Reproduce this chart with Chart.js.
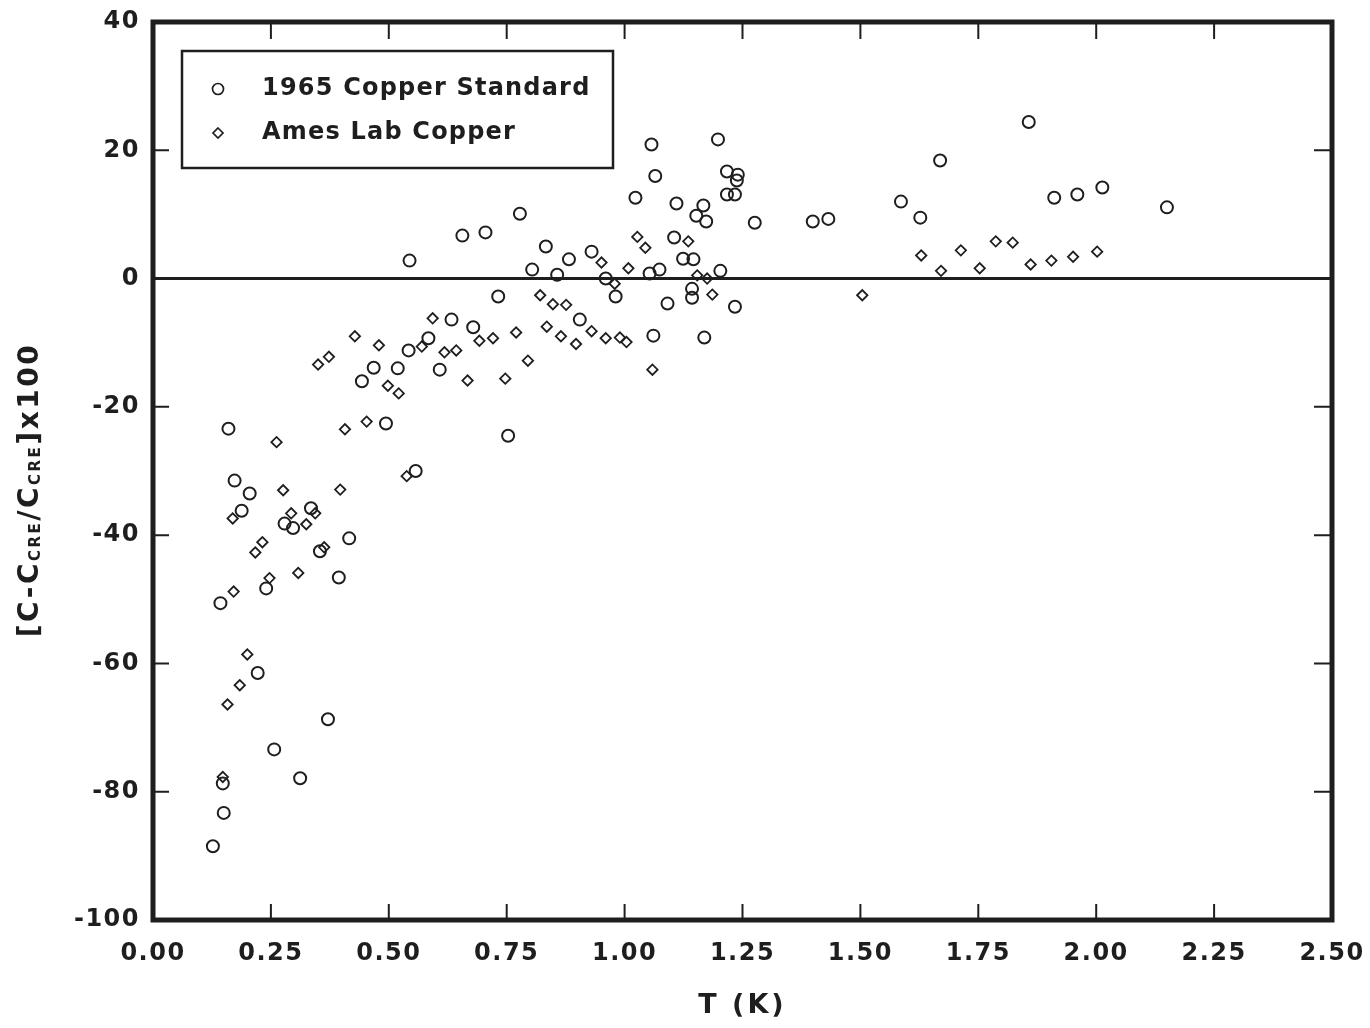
<!DOCTYPE html>
<html>
<head>
<meta charset="utf-8">
<title>Copper heat capacity deviation</title>
<script src="https://cdn.jsdelivr.net/npm/chart.js@4.4.1/dist/chart.umd.min.js"></script>
<style>
  html, body { margin: 0; padding: 0; background: #fff; }
  canvas { display: block; }
</style>
</head>
<body>
<canvas id="devChart" width="1370" height="1028"></canvas>
<script>
// 1965 Copper Standard: temperature (K) and deviation x100
const stdT = [
  0.127, 0.150, 0.148, 0.143, 0.160, 0.173, 0.188, 0.205, 0.222, 0.240,
  0.257, 0.279, 0.297, 0.312, 0.335, 0.354, 0.371, 0.394, 0.416, 0.443,
  0.468, 0.494, 0.519, 0.544, 0.542, 0.557, 0.584, 0.608, 0.633, 0.656,
  0.679, 0.705, 0.732, 0.753, 0.778, 0.804, 0.833, 0.857, 0.882, 0.905,
  0.930, 0.960, 0.981, 1.023, 1.053, 1.057, 1.061, 1.065, 1.074, 1.091,
  1.105, 1.110, 1.124, 1.143, 1.143, 1.146, 1.152, 1.167, 1.169, 1.173,
  1.198, 1.203, 1.217, 1.217, 1.234, 1.234, 1.238, 1.240, 1.276, 1.399,
  1.432, 1.586, 1.627, 1.669, 1.857, 1.911, 1.960, 2.013, 2.150
];
const stdDev = [
  -88.5, -83.3, -78.7, -50.6, -23.4, -31.5, -36.2, -33.5, -61.5, -48.3,
  -73.4, -38.2, -38.9, -77.9, -35.8, -42.5, -68.7, -46.6, -40.5, -16.0,
  -13.9, -22.6, -14.0, 2.8, -11.2, -30.0, -9.3, -14.2, -6.4, 6.7,
  -7.6, 7.2, -2.8, -24.5, 10.1, 1.4, 5.0, 0.6, 3.0, -6.4,
  4.2, 0.0, -2.8, 12.6, 0.8, 20.9, -8.9, 16.0, 1.4, -3.9,
  6.4, 11.7, 3.1, -1.6, -3.0, 3.0, 9.8, 11.4, -9.2, 8.9,
  21.7, 1.2, 16.7, 13.1, 13.1, -4.4, 15.3, 16.2, 8.7, 8.9,
  9.3, 12.0, 9.5, 18.4, 24.4, 12.6, 13.1, 14.2, 11.1
];

// Ames Lab Copper
const amesT = [
  0.148, 0.158, 0.169, 0.171, 0.184, 0.200, 0.217, 0.232, 0.247, 0.262,
  0.276, 0.293, 0.308, 0.325, 0.344, 0.350, 0.363, 0.373, 0.397, 0.407,
  0.428, 0.453, 0.479, 0.498, 0.521, 0.538, 0.570, 0.593, 0.618, 0.643,
  0.667, 0.692, 0.721, 0.747, 0.770, 0.795, 0.821, 0.835, 0.848, 0.865,
  0.876, 0.897, 0.930, 0.951, 0.960, 0.979, 0.990, 1.004, 1.008, 1.027,
  1.044, 1.059, 1.135, 1.154, 1.175, 1.186, 1.504, 1.629, 1.671, 1.713,
  1.753, 1.787, 1.823, 1.861, 1.905, 1.951, 2.002
];
const amesDev = [
  -77.7, -66.4, -37.4, -48.8, -63.4, -58.6, -42.7, -41.1, -46.7, -25.5,
  -33.0, -36.6, -45.9, -38.3, -36.6, -13.4, -41.9, -12.2, -32.9, -23.5,
  -9.0, -22.3, -10.4, -16.7, -17.9, -30.8, -10.6, -6.2, -11.5, -11.2,
  -15.9, -9.7, -9.3, -15.6, -8.4, -12.8, -2.6, -7.5, -4.0, -9.0,
  -4.1, -10.2, -8.2, 2.5, -9.3, -0.8, -9.2, -9.9, 1.6, 6.5,
  4.8, -14.2, 5.8, 0.5, 0.0, -2.5, -2.6, 3.6, 1.2, 4.4,
  1.6, 5.8, 5.6, 2.2, 2.8, 3.4, 4.2
];

const xTicks = [0, 0.25, 0.5, 0.75, 1.0, 1.25, 1.5, 1.75, 2.0, 2.25, 2.5];
const yTicks = [-100, -80, -60, -40, -20, 0, 20, 40];

const legendNames = ['1965 Copper Standard', 'Ames Lab Copper'];

const ink = '#1e1e1e';
const labelFont = '"DejaVu Sans", sans-serif';

function toPoints(xs, ys) {
    return xs.map((t, i) => ({ x: t, y: ys[i] }));
}

// frame, inward ticks and the zero reference line
const framePlugin = {
    id: 'frame',
    beforeDraw(chart) {
        chart.ctx.letterSpacing = '1.5px';
    },
    beforeDatasetsDraw(chart) {
        const { ctx, chartArea: a, scales: { x, y } } = chart;
        ctx.save();
        ctx.strokeStyle = ink;
        ctx.lineCap = 'butt';

        const y0 = y.getPixelForValue(0);
        ctx.lineWidth = 3;
        ctx.beginPath();
        ctx.moveTo(a.left, y0);
        ctx.lineTo(a.right, y0);
        ctx.stroke();

        ctx.lineWidth = 2;
        ctx.beginPath();
        xTicks.forEach(v => {
            const px = x.getPixelForValue(v);
            ctx.moveTo(px, a.top);
            ctx.lineTo(px, a.top + 17);
            ctx.moveTo(px, a.bottom);
            ctx.lineTo(px, a.bottom - 16);
        });
        yTicks.forEach(v => {
            const py = y.getPixelForValue(v);
            ctx.moveTo(a.left, py);
            ctx.lineTo(a.left + 16, py);
            ctx.moveTo(a.right, py);
            ctx.lineTo(a.right - 18, py);
        });
        ctx.stroke();

        ctx.lineWidth = 5;
        ctx.strokeRect(a.left, a.top, a.right - a.left, a.bottom - a.top);
        ctx.restore();
    }
};

// boxed legend, axis titles (the y title needs subscripts)
const labelPlugin = {
    id: 'labels',
    afterDraw(chart) {
        const { ctx, chartArea: a } = chart;
        ctx.save();
        ctx.strokeStyle = ink;
        ctx.fillStyle = ink;

        // legend box
        ctx.lineWidth = 2.5;
        ctx.strokeRect(182, 51, 431, 117);
        ctx.lineWidth = 1.7;
        ctx.beginPath();
        ctx.arc(218, 89, 5.5, 0, Math.PI * 2);
        ctx.stroke();
        ctx.beginPath();
        ctx.moveTo(218, 128);
        ctx.lineTo(223, 133);
        ctx.lineTo(218, 138);
        ctx.lineTo(213, 133);
        ctx.closePath();
        ctx.stroke();

        ctx.letterSpacing = '1.2px';
        ctx.font = 'bold 24px ' + labelFont;
        ctx.textAlign = 'left';
        ctx.textBaseline = 'middle';
        ctx.fillText(legendNames[0], 262, 89);
        ctx.fillText(legendNames[1], 262, 133);

        // x title
        ctx.letterSpacing = '3px';
        ctx.font = 'bold 27px ' + labelFont;
        ctx.textAlign = 'center';
        ctx.fillText('T (K)', (a.left + a.right) / 2, 1006);

        // y title, rotated, with CRE subscripts
        const parts = [
            ['[C-C', false], ['CRE', true], ['/C', false], ['CRE', true], [']x100', false]
        ];
        const big = 'bold 28px ' + labelFont;
        const small = 'bold 15px ' + labelFont;
        ctx.letterSpacing = '2.5px';
        let total = 0;
        parts.forEach(p => {
            ctx.font = p[1] ? small : big;
            p.push(ctx.measureText(p[0]).width);
            total += p[2];
        });
        ctx.translate(38, 490);
        ctx.rotate(-Math.PI / 2);
        ctx.textAlign = 'left';
        ctx.textBaseline = 'alphabetic';
        let cx = -total / 2;
        parts.forEach(p => {
            ctx.font = p[1] ? small : big;
            ctx.fillText(p[0], cx, p[1] ? 2 : 0);
            cx += p[2];
        });
        ctx.restore();
    }
};

const devChart = new Chart(document.getElementById('devChart').getContext('2d'), {
    type: 'scatter',
    data: {
        datasets: [
            {
                label: legendNames[0],
                data: toPoints(stdT, stdDev),
                pointStyle: 'circle',
                pointRadius: 6,
                pointBorderWidth: 2,
                pointBorderColor: ink,
                pointBackgroundColor: 'rgba(0,0,0,0)'
            },
            {
                label: legendNames[1],
                data: toPoints(amesT, amesDev),
                pointStyle: 'rectRot',
                pointRadius: 5.2,
                pointBorderWidth: 1.8,
                pointBorderColor: ink,
                pointBackgroundColor: 'rgba(0,0,0,0)'
            }
        ]
    },
    options: {
        responsive: false,
        animation: false,
        events: [],
        layout: { padding: { top: 22, right: 38, left: 0, bottom: 0 } },
        plugins: {
            legend: { display: false },
            tooltip: { enabled: false }
        },
        scales: {
            x: {
                type: 'linear',
                min: 0,
                max: 2.5,
                afterBuildTicks: s => { s.ticks = xTicks.map(v => ({ value: v })); },
                afterFit: s => { s.height = 108; s.paddingLeft = 0; s.paddingRight = 0; },
                grid: { display: false, drawTicks: false },
                border: { display: false },
                ticks: {
                    padding: 19,
                    color: ink,
                    maxRotation: 0,
                    font: { family: labelFont, size: 24, weight: 'bold' },
                    callback: v => v.toFixed(2)
                }
            },
            y: {
                type: 'linear',
                min: -100,
                max: 40,
                afterBuildTicks: s => { s.ticks = yTicks.map(v => ({ value: v })); },
                afterFit: s => { s.width = 153; s.paddingTop = 0; s.paddingBottom = 0; },
                grid: { display: false, drawTicks: false },
                border: { display: false },
                ticks: {
                    padding: 13,
                    color: ink,
                    font: { family: labelFont, size: 24, weight: 'bold' },
                    callback: v => String(v)
                }
            }
        }
    },
    plugins: [framePlugin, labelPlugin]
});
</script>
</body>
</html>
